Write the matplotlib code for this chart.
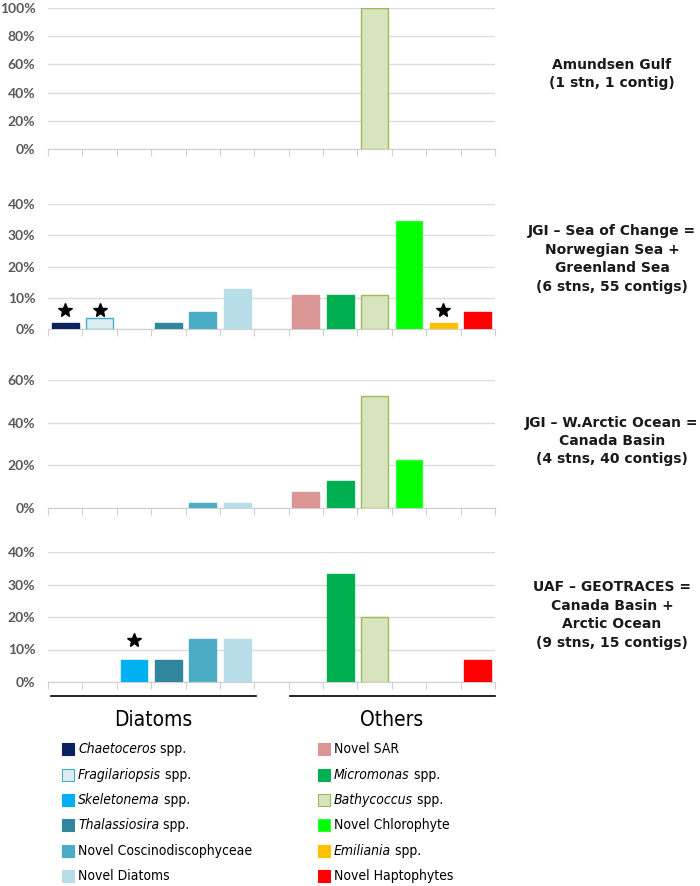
import matplotlib
matplotlib.use("Agg")
import matplotlib.pyplot as plt
from matplotlib.patches import Rectangle
from matplotlib.lines import Line2D

# categorias (slot 6 vacio entre diatomeas y otros)
categories = ["Chaetoceros", "Fragilariopsis", "Skeletonema", "Thalassiosira",
              "Novel Coscinodiscophyceae", "Novel Diatoms", "",
              "Novel SAR", "Micromonas", "Bathycoccus", "Novel Chlorophyte",
              "Emiliania", "Novel Haptophytes"]
colors = ["#0d2160", "#daeef3", "#00b0f0", "#31859c", "#4bacc6", "#b7dde8", "none",
          "#d99694", "#00b050", "#d7e4bd", "#00ff00", "#ffc000", "#ff0000"]
edges = ["#0d2160", "#4bacc6", "#00b0f0", "#31859c", "#4bacc6", "#b7dde8", "none",
         "#d99694", "#00b050", "#9bbb59", "#33ff33", "#ffc000", "#ff0000"]

# porcentajes por region
amundsen = [0, 0, 0, 0, 0, 0, 0, 0, 0, 100, 0, 0, 0]
sea_of_change = [1.8, 3.6, 0, 1.8, 5.5, 12.7, 0, 10.9, 10.9, 10.9, 34.5, 1.8, 5.5]
w_arctic = [0, 0, 0, 0, 2.5, 2.5, 0, 7.5, 12.5, 52.5, 22.5, 0, 0]
geotraces = [0, 0, 6.7, 6.7, 13.3, 13.3, 0, 0, 33.3, 20.0, 0, 0, 6.7]

# estrellas: (indice de categoria, altura en %)
stars_soc = [(0, 6), (1, 6), (11, 6)]
stars_geo = [(2, 13)]

region_labels = ["Amundsen Gulf\n(1 stn, 1 contig)",
                 "JGI – Sea of Change =\nNorwegian Sea +\nGreenland Sea\n(6 stns, 55 contigs)",
                 "JGI – W.Arctic Ocean =\nCanada Basin\n(4 stns, 40 contigs)",
                 "UAF – GEOTRACES =\nCanada Basin +\nArctic Ocean\n(9 stns, 15 contigs)"]

# leyenda: (parte en cursiva, parte normal)
legend_left = [("Chaetoceros", " spp."), ("Fragilariopsis", " spp."),
               ("Skeletonema", " spp."), ("Thalassiosira", " spp."),
               ("", "Novel Coscinodiscophyceae"), ("", "Novel Diatoms")]
legend_right = [("", "Novel SAR"), ("Micromonas", " spp."), ("Bathycoccus", " spp."),
                ("", "Novel Chlorophyte"), ("Emiliania", " spp."), ("", "Novel Haptophytes")]

W, H = 700, 886
fig = plt.figure(figsize=(7, 8.86), dpi=100)

panels = [
    (amundsen, 100, 20, 149, 8, [], region_labels[0], 74),
    (sea_of_change, 40, 10, 329, 204, stars_soc, region_labels[1], 259),
    (w_arctic, 60, 20, 508, 380, [], region_labels[2], 441),
    (geotraces, 40, 10, 682, 552, stars_geo, region_labels[3], 615),
]

for vals, ymax, step, y0, y1, stars, label, ly in panels:
    ax = fig.add_axes([48 / W, 1 - y0 / H, (495 - 48) / W, (y0 - y1) / H])
    idx = [i for i, v in enumerate(vals) if v > 0]
    ax.bar([i + 0.5 for i in idx], [vals[i] for i in idx], width=0.78,
           color=[colors[i] for i in idx], edgecolor=[edges[i] for i in idx],
           linewidth=1, zorder=3)
    for i, sy in stars:
        ax.plot(i + 0.5, sy, marker="*", color="black", markersize=10, zorder=4)
    ax.set_xlim(0, 13)
    ax.set_ylim(0, ymax)
    ax.set_yticks(range(0, ymax + 1, step))
    ax.set_yticklabels([f"{v}%" for v in range(0, ymax + 1, step)])
    ax.set_xticks(range(14))
    ax.set_xticklabels([])
    ax.grid(axis="y", color="#dcdcdc", linewidth=1, zorder=0)
    for s in ["top", "right", "left"]:
        ax.spines[s].set_visible(False)
    ax.spines["bottom"].set_color("#d0d0d0")
    ax.tick_params(axis="x", length=5, color="#d0d0d0")
    ax.tick_params(axis="y", length=0, pad=9, labelsize=10, labelcolor="#595959")
    for t in ax.get_yticklabels():
        t.set_fontweight("bold")
        t.set_family("Lato")
    fig.text(612 / W, 1 - ly / H, label, ha="center", va="center", fontsize=10,
             fontweight="bold", linespacing=1.4, color="#1a1a1a")

# lineas de grupo
fig.add_artist(Line2D([51 / W, 256 / W], [1 - 696 / H] * 2, color="black", lw=1.2))
fig.add_artist(Line2D([290 / W, 495 / W], [1 - 696 / H] * 2, color="black", lw=1.2))
fig.text(153 / W, 1 - 720 / H, "Diatoms", ha="center", va="center", fontsize=15,
         fontstretch="condensed")
fig.text(392 / W, 1 - 720 / H, "Others", ha="center", va="center", fontsize=15,
         fontstretch="condensed")

# leyenda manual
renderer = fig.canvas.get_renderer()
row_y = [749, 775, 800, 825, 851, 876]
for i in range(6):
    for sx, tx, labels, cidx in [(62, 78, legend_left, i), (318, 334, legend_right, i + 7)]:
        y = 1 - row_y[i] / H
        fig.add_artist(Rectangle((sx / W, y - 6 / H), 12 / W, 12 / H, transform=fig.transFigure,
                                 facecolor=colors[cidx], edgecolor=edges[cidx], lw=0.8))
        ital, normal = labels[i]
        xpos = tx
        if ital:
            t = fig.text(xpos / W, y, ital, ha="left", va="center", fontsize=10,
                         fontstretch="condensed", style="italic")
            xpos += t.get_window_extent(renderer).width
        fig.text(xpos / W, y, normal, ha="left", va="center", fontsize=10,
                 fontstretch="condensed")

fig.savefig("out.png", dpi=100)
